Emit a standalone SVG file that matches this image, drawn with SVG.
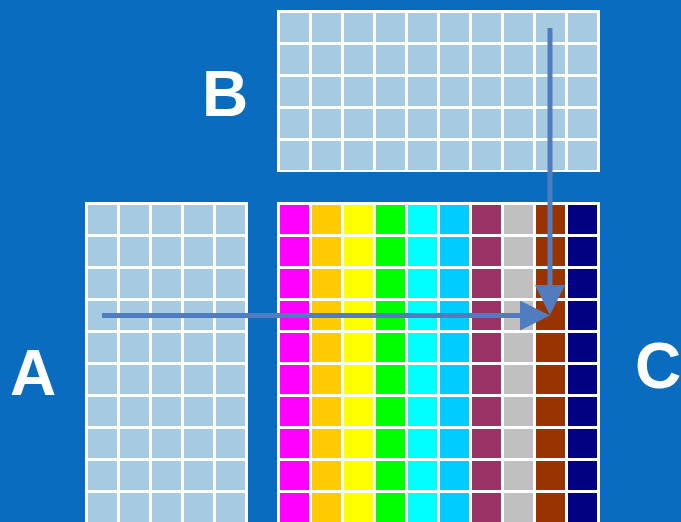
<svg xmlns="http://www.w3.org/2000/svg" width="681" height="522" viewBox="0 0 681 522">
  <style>
    .lbl { font-family: "Liberation Sans", Arial, sans-serif; font-weight: bold; font-size: 64px; fill: #ffffff; }
    .conn { stroke: #4F7DC0; stroke-width: 5; fill: none; }
    .wl { fill: #ffffff; }
  </style>
  <defs>
    <pattern id="pA" patternUnits="userSpaceOnUse" x="85" y="202" width="32" height="32">
      <rect width="32" height="32" fill="#ffffff"/>
      <rect x="3" y="3" width="29" height="29" fill="#A6CAE2"/>
    </pattern>
    <pattern id="pB" patternUnits="userSpaceOnUse" x="277" y="10" width="32" height="32">
      <rect width="32" height="32" fill="#ffffff"/>
      <rect x="3" y="3" width="29" height="29" fill="#A6CAE2"/>
    </pattern>
    <marker id="ah" markerUnits="userSpaceOnUse" markerWidth="30" markerHeight="30" refX="0" refY="15" orient="auto">
      <path d="M0,0 L30,15 L0,30 Z" fill="#4F7DC0"/>
    </marker>
  </defs>
  <rect width="681" height="522" fill="#0A6CBE"/>

  <g id="gridB">
    <rect x="277" y="10" width="323" height="162" fill="url(#pB)"/>
  </g>

  <g id="gridA">
    <rect x="85" y="202" width="163" height="320" fill="url(#pA)"/>
  </g>

  <g id="gridC">
    <rect x="277" y="202" width="323" height="320" fill="#ffffff"/>
    <rect x="280" y="205" width="29" height="317" fill="#FF00FF"/>
    <rect x="312" y="205" width="29" height="317" fill="#FFCC00"/>
    <rect x="344" y="205" width="29" height="317" fill="#FFFF00"/>
    <rect x="376" y="205" width="29" height="317" fill="#00FF00"/>
    <rect x="408" y="205" width="29" height="317" fill="#00FFFF"/>
    <rect x="440" y="205" width="29" height="317" fill="#00CCFF"/>
    <rect x="472" y="205" width="29" height="317" fill="#993366"/>
    <rect x="504" y="205" width="29" height="317" fill="#C0C0C0"/>
    <rect x="536" y="205" width="29" height="317" fill="#993300"/>
    <rect x="568" y="205" width="29" height="317" fill="#000080"/>
    <rect class="wl" x="277" y="234" width="323" height="3"/>
    <rect class="wl" x="277" y="266" width="323" height="3"/>
    <rect class="wl" x="277" y="298" width="323" height="3"/>
    <rect class="wl" x="277" y="330" width="323" height="3"/>
    <rect class="wl" x="277" y="362" width="323" height="3"/>
    <rect class="wl" x="277" y="394" width="323" height="3"/>
    <rect class="wl" x="277" y="426" width="323" height="3"/>
    <rect class="wl" x="277" y="458" width="323" height="3"/>
    <rect class="wl" x="277" y="490" width="323" height="3"/>
  </g>

  <g id="labels">
    <text class="lbl" x="202" y="116">B</text>
    <text class="lbl" x="10" y="395">A</text>
    <text class="lbl" x="635" y="388">C</text>
  </g>

  <g id="connectors">
    <line class="conn" x1="102" y1="315.5" x2="520" y2="315.5" marker-end="url(#ah)"/>
    <line class="conn" x1="550" y1="28" x2="550" y2="285" marker-end="url(#ah)"/>
  </g>
</svg>
